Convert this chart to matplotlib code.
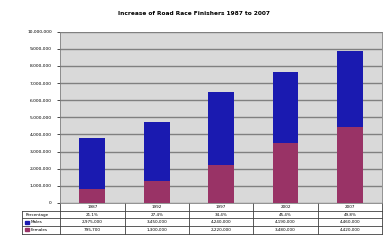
import matplotlib.pyplot as plt
from matplotlib.patches import Rectangle

# --- Data ---
years    = ["1987", "1992", "1997", "2002", "2007"]
females  = [795700, 1300000, 2220000, 3480000, 4420000]
males    = [2975000, 3450000, 4240000, 4190000, 4460000]
pct_fem  = ["21.1%", "27.4%", "34.4%", "45.4%", "49.8%"]
y_ticks  = list(range(0, 10000001, 1000000))

BLUE = "#1a1ab0"
RED  = "#993366"
GRID = "#808080"

fig = plt.figure(figsize=(3.88, 2.46), dpi=100)
fig.patch.set_facecolor("white")
ax = fig.add_axes([0.155, 0.175, 0.83, 0.696])
ax.set_facecolor("#d9d9d9")

x = range(len(years))
ax.bar(x, females, width=0.4, color=RED, zorder=3)
ax.bar(x, males, width=0.4, bottom=females, color=BLUE, zorder=3)

ax.set_xlim(-0.5, len(years) - 0.5)
ax.set_ylim(0, 10000000)
ax.set_yticks(y_ticks)
ax.set_yticklabels([f"{v:,}" for v in y_ticks], fontsize=3.2)
ax.set_xticks([])
ax.yaxis.grid(True, color=GRID, linewidth=1.0, zorder=1)
ax.tick_params(axis="y", length=2, width=0.5, pad=4)
for s in ax.spines.values():
    s.set_color(GRID)
    s.set_linewidth(0.6)

fig.suptitle("Increase of Road Race Finishers 1987 to 2007", fontsize=4.2,
             fontweight="bold", y=0.955)

# --- Data table below the plot ---
rh = 0.045
left = -0.118
tr = ax.transAxes
rows = [
    ("", years),
    ("Percentage", pct_fem),
    ("Males", [f"{v:,}" for v in males]),
    ("Females", [f"{v:,}" for v in females]),
]
lw = 0.6
for i, (label, vals) in enumerate(rows):
    y0 = -rh * (i + 1)
    xs = 0 if i == 0 else left
    ax.plot([xs, 1], [y0, y0], color="#404040", lw=lw, transform=tr, clip_on=False)
    for j, v in enumerate(vals):
        ax.text(0.1 + 0.2 * j, y0 + rh / 2, v, fontsize=3.0, ha="center", va="center",
                transform=tr)
    if label:
        tx = left + 0.01
        if label in ("Males", "Females"):
            c = BLUE if label == "Males" else RED
            ax.add_patch(Rectangle((left + 0.008, y0 + rh * 0.3), 0.012, rh * 0.4,
                                   color=c, transform=tr, clip_on=False))
            tx = left + 0.026
        ax.text(tx, y0 + rh / 2, label, fontsize=3.0, ha="left", va="center", transform=tr)
ax.plot([left, 0], [-rh, -rh], color="#404040", lw=lw, transform=tr, clip_on=False)
for j in range(6):
    ax.plot([0.2 * j, 0.2 * j], [-rh * 4, 0], color="#404040", lw=lw, transform=tr,
            clip_on=False)
ax.plot([left, left], [-rh * 4, -rh], color="#404040", lw=lw, transform=tr, clip_on=False)

fig.savefig("out.png", dpi=100)
